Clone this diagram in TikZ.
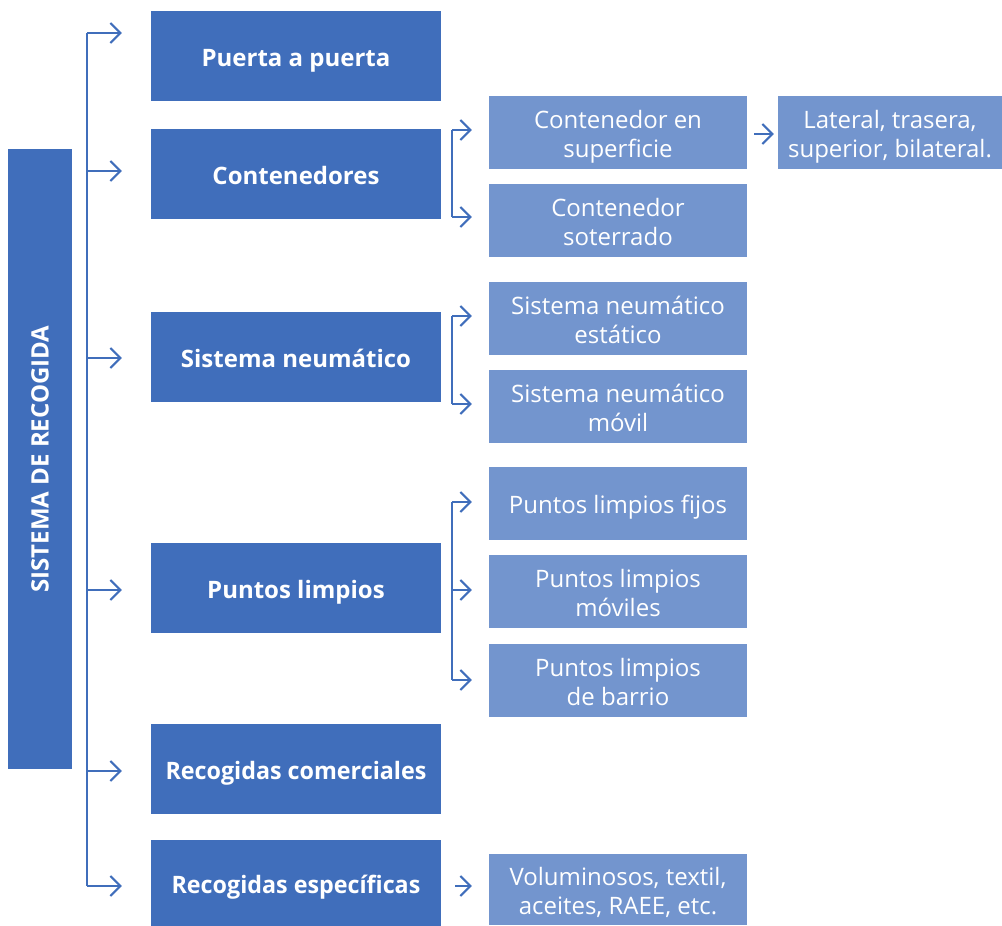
\documentclass[tikz,border=0pt]{standalone}
\usepackage{fontspec}
\setmainfont{Open Sans}
\usetikzlibrary{arrows.meta}
\definecolor{darkblue}{HTML}{406EBB}
\definecolor{lightblue}{HTML}{7395CE}
\begin{document}
\begin{tikzpicture}[x=1pt,y=-1pt,
  mainbox/.style={fill=darkblue, minimum width=290pt, minimum height=90pt, inner sep=0pt},
  maintext/.style={text=white, inner sep=0pt, yshift=-4pt, text height=18pt, text depth=6pt,
    font=\bfseries\fontsize{24}{29}\selectfont},
  subbox/.style={fill=lightblue, minimum width=258pt, minimum height=73pt, inner sep=0pt},
  subtext/.style={text=white, inner sep=0pt, yshift=-4.5pt, align=center, text depth=6pt,
    font=\fontsize{24}{29}\selectfont},
  rail/.style={draw=darkblue, line width=2pt},
  link/.style={rail, -{Straight Barb[length=10pt,width=20pt,line width=2pt]}}]
\useasboundingbox (0,0) rectangle (1002,926);

% root box with vertical title
\node[fill=darkblue, text=white, rotate=90, minimum width=620pt, minimum height=64pt,
  inner sep=0pt, font=\bfseries\fontsize{24}{29}\selectfont] (root) at (40,459) {SISTEMA DE RECOGIDA};

% first level
\node[mainbox, label={[maintext]center:Puerta a puerta}] (pp) at (296,56) {};
\node[mainbox, label={[maintext]center:Contenedores}] (con) at (296,174) {};
\node[mainbox, label={[maintext]center:Sistema neumático}] (neu) at (296,357) {};
\node[mainbox, label={[maintext]center:Puntos limpios}] (pl) at (296,588) {};
\node[mainbox, label={[maintext]center:{\scalebox{0.97}[1]{Recogidas comerciales}}}] (rc) at (296,769) {};
\node[mainbox, minimum height=86pt,
  label={[maintext]center:{\scalebox{0.97}[1]{Recogidas específicas}}}] (re) at (296,883) {};

% second level
\node[subbox, label={[subtext]center:{Contenedor en\\superficie}}] (csup) at (618,132) {};
\node[subbox, label={[subtext]center:{Contenedor\\soterrado}}] (csot) at (618,220) {};
\node[subbox, label={[subtext]center:{Sistema neumático\\estático}}] (nest) at (618,318) {};
\node[subbox, label={[subtext]center:{Sistema neumático\\móvil}}] (nmov) at (618,406) {};
\node[subbox, label={[subtext]center:{Puntos limpios fijos}}] (pfij) at (618,503) {};
\node[subbox, label={[subtext]center:{Puntos limpios\\móviles}}] (pmov) at (618,591) {};
\node[subbox, label={[subtext]center:{Puntos limpios\\de barrio}}] (pbar) at (618,680) {};
\node[subbox, minimum height=71pt,
  label={[subtext]center:{Voluminosos, textil,\\aceites, RAEE, etc.}}] (vol) at (618,889) {};
\node[subbox, minimum width=224pt,
  label={[subtext]center:{Lateral, trasera,\\superior, bilateral.}}] (lat) at (890,132) {};

% main spine
\coordinate (s1) at (87,33);
\coordinate (s2) at (87,171);
\coordinate (s3) at (87,358);
\coordinate (s4) at (87,590);
\coordinate (s5) at (87,771);
\coordinate (s6) at (87,886);
\draw[rail] (s1) -- (s6);
\foreach \s/\n in {s1/pp, s2/con, s3/neu, s4/pl, s5/rc, s6/re}
  \draw[link, shorten >=29pt] (\s) -- (\s -| \n.west);

% bracket for containers
\coordinate (c1) at (452,130);
\coordinate (c2) at (452,217);
\draw[rail] (c1) -- (c2);
\draw[link, shorten >=17pt] (c1) -- (c1 -| csup.west);
\draw[link, shorten >=17pt] (c2) -- (c2 -| csot.west);

% bracket for pneumatic systems
\coordinate (n1) at (452,316);
\coordinate (n2) at (452,404);
\draw[rail] (n1) -- (n2);
\draw[link, shorten >=17pt] (n1) -- (n1 -| nest.west);
\draw[link, shorten >=17pt] (n2) -- (n2 -| nmov.west);

% bracket for clean points
\coordinate (p1) at (452,502);
\coordinate (p2) at (452,590);
\coordinate (p3) at (452,680);
\draw[rail] (p1) -- (p3);
\draw[link, shorten >=17pt] (p1) -- (p1 -| pfij.west);
\draw[link, shorten >=17pt] (p2) -- (p2 -| pmov.west);
\draw[link, shorten >=17pt] (p3) -- (p3 -| pbar.west);

% single arrows
\coordinate (e1) at (441,886);
\draw[link, shorten <=14pt, shorten >=17pt] (e1) -- (e1 -| vol.west);
\coordinate (l1) at (747,134);
\draw[link, shorten <=7pt, shorten >=4pt] (l1) -- (l1 -| lat.west);
\end{tikzpicture}
\end{document}
